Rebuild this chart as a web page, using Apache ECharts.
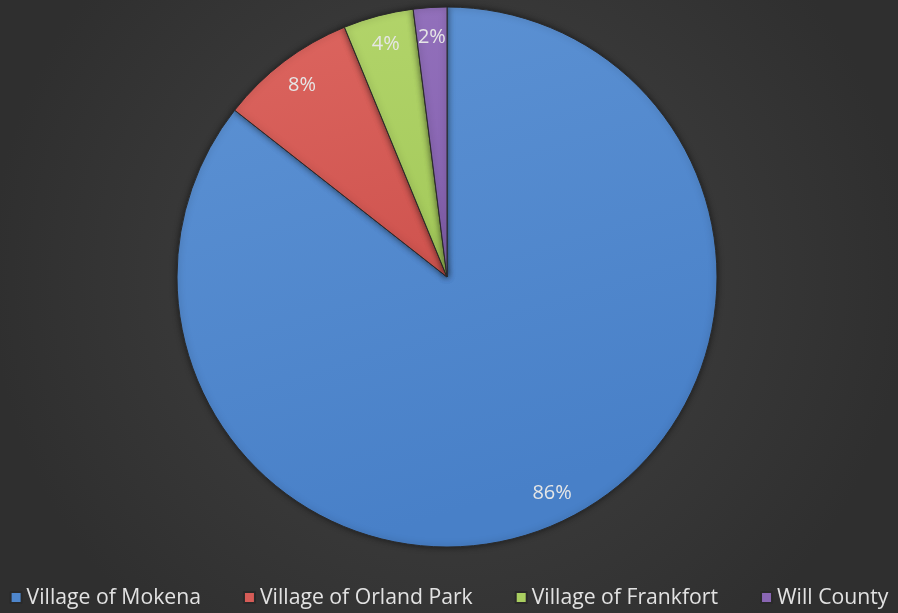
<!DOCTYPE html>
<html><head><meta charset="utf-8">
<script src="https://cdn.jsdelivr.net/npm/echarts@6/dist/echarts.min.js"></script>
<style>html,body{margin:0;padding:0;background:#3a3a3a;}#c{width:898px;height:613px;}</style>
</head><body><div id="c"></div>
<script>
const categories = ['Village of Mokena', 'Village of Orland Park', 'Village of Frankfort', 'Will County'];
const values = [85.6, 8.2, 4.2, 2.0];
const colors = ['#4e86cc', '#d65c57', '#a9ce60', '#8966b3'];
const chart = echarts.init(document.getElementById('c'));
const grad = (c1, c2) => ({type: 'linear', x: 0, y: 0, x2: 0.3, y2: 1, colorStops: [{offset: 0, color: c1}, {offset: 1, color: c2}]});
const fills = [grad('#5e93d4', '#4880c8'), grad('#dc655f', '#d05550'), grad('#b2d46a', '#a3c95a'), grad('#9270bb', '#8460ae')];
const data = categories.map((n, i) => ({name: n, value: values[i], itemStyle: {color: fills[i]}}));
chart.setOption({
  backgroundColor: {type: 'radial', x: 0.5, y: 0.45, r: 0.75, colorStops: [{offset: 0, color: '#444444'}, {offset: 1, color: '#2f2f2f'}]},
  animation: false,
  legend: {
    bottom: 0, left: 'center', itemWidth: 11, itemHeight: 11, itemGap: 42, icon: 'rect',
    textStyle: {color: '#e2e2e2', fontSize: 21.2, fontFamily: 'Open Sans'},
    data: categories.map((n, i) => ({name: n, itemStyle: {color: colors[i]}}))
  },
  series: [{
    type: 'pie', center: [447, 277], radius: [0, 270], startAngle: 90, clockwise: true,
    silent: true,
    itemStyle: {borderColor: '#2a2a2a', borderWidth: 1, shadowColor: 'rgba(0,0,0,0.5)', shadowBlur: 6},
    label: {show: false}, labelLine: {show: false},
    data: data
  }, {
    type: 'pie', center: [447, 277], radius: [205, 270], startAngle: 90, clockwise: true,
    silent: true,
    itemStyle: {color: 'rgba(0,0,0,0)'},
    label: {show: true, position: 'inside', color: '#e6e6e6', fontSize: 20, fontFamily: 'Open Sans',
      formatter: p => Math.round(p.percent) + '%'},
    labelLine: {show: false},
    data: categories.map((n, i) => ({name: n, value: values[i]}))
  }]
});
</script></body></html>
